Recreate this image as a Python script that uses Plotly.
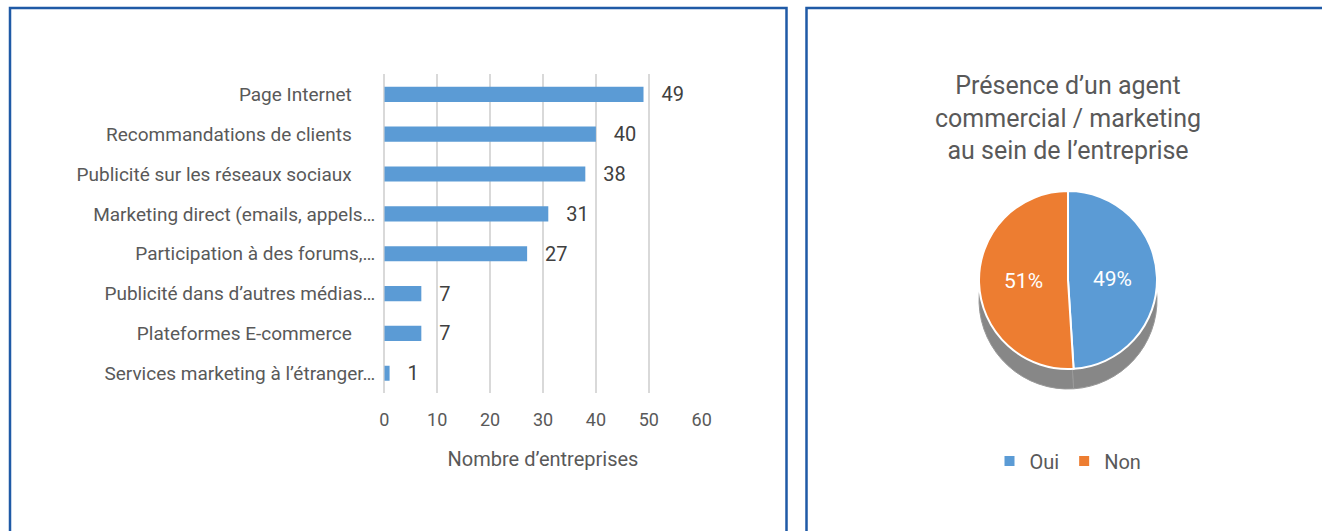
import plotly.graph_objects as go

# ---- data ----
categories = [
    "Page Internet",
    "Recommandations de clients",
    "Publicité sur les réseaux sociaux",
    "Marketing direct (emails, appels…",
    "Participation à des forums,…",
    "Publicité dans d’autres médias…",
    "Plateformes E-commerce",
    "Services marketing à l’étranger…",
]
counts = [49, 40, 38, 31, 27, 7, 7, 1]
x_ticks = [0, 10, 20, 30, 40, 50, 60]

pie_labels = ["Oui", "Non"]
pie_values = [49, 51]

W, H = 1322, 531
FONT = "Roboto, Liberation Sans, sans-serif"
GRAY_TXT = "#595959"


def px_x(v):
    return v / W


def px_y(v):
    return 1 - v / H


# pad labels without ellipsis so they end further from axis (as in reference)
disp_labels = [c if c.endswith("…") else c + "\u00a0" * 5 for c in categories]

fig = go.Figure()

fig.add_trace(go.Bar(
    y=disp_labels[::-1],
    x=counts[::-1],
    orientation="h",
    marker=dict(color="#5B9BD5", line=dict(width=0)),
    text=counts[::-1],
    texttemplate="\u00a0\u00a0\u00a0%{x}",
    textposition="outside",
    constraintext="none",
    cliponaxis=False,
    textfont=dict(family=FONT, size=20, color="#404040"),
    hoverinfo="skip",
    showlegend=False,
))

# depth of the pie (shadow below)
cx, cy, d = 1068, 280, 178
depth = 20
fig.add_trace(go.Pie(
    labels=pie_labels,
    values=pie_values,
    sort=False,
    direction="clockwise",
    marker=dict(colors=["#878787", "#878787"], line=dict(color="#9a9a9a", width=1)),
    textinfo="none",
    showlegend=False,
    hoverinfo="skip",
    domain=dict(x=[px_x(cx - d / 2), px_x(cx + d / 2)],
                y=[px_y(cy + depth + d / 2), px_y(cy + depth - d / 2)]),
))

fig.add_trace(go.Pie(
    labels=pie_labels,
    values=pie_values,
    sort=False,
    direction="clockwise",
    marker=dict(colors=["#5B9BD5", "#ED7D31"], line=dict(color="white", width=2)),
    textinfo="percent",
    texttemplate="%{percent:.0%}",
    textposition="inside",
    insidetextfont=dict(family=FONT, size=21, color="white"),
    domain=dict(x=[px_x(cx - d / 2), px_x(cx + d / 2)],
                y=[px_y(cy + d / 2), px_y(cy - d / 2)]),
    showlegend=True,
))

fig.update_layout(
    width=W, height=H,
    margin=dict(l=0, r=0, t=0, b=0, pad=0, autoexpand=False),
    paper_bgcolor="white",
    plot_bgcolor="white",
    font=dict(family=FONT, color=GRAY_TXT),
    bargap=0.62,
    xaxis=dict(
        domain=[384.3 / W, 701.7 / W],
        range=[0, 60],
        tickvals=x_ticks,
        showgrid=True,
        gridcolor="#D9D9D9",
        gridwidth=1.5,
        zeroline=True,
        zerolinecolor="#D9D9D9",
        zerolinewidth=1.5,
        showline=False,
        automargin=False,
        tickfont=dict(size=18, color=GRAY_TXT),
        ticklabelstandoff=14,
        title=dict(text="Nombre d’entreprises", font=dict(size=20, color=GRAY_TXT), standoff=22),
        fixedrange=True,
    ),
    yaxis=dict(
        domain=[1 - 393.2 / H, 1 - 74.4 / H],
        showgrid=False,
        zeroline=False,
        showline=False,
        automargin=False,
        tickfont=dict(size=19, color=GRAY_TXT),
        ticklabelstandoff=8,
        fixedrange=True,
    ),
    legend=dict(
        orientation="h",
        x=px_x(1068), xanchor="center",
        y=px_y(461), yanchor="middle",
        font=dict(size=20, color=GRAY_TXT),
        itemwidth=30,
    ),
    annotations=[dict(
        text="Présence d’un agent<br>commercial / marketing<br>au sein de l’entreprise",
        x=px_x(1068), y=px_y(118), xref="paper", yref="paper",
        xanchor="center", yanchor="middle", showarrow=False,
        font=dict(size=25, color=GRAY_TXT),
    )],
    shapes=[
        dict(type="rect", xref="paper", yref="paper",
             x0=px_x(10), x1=px_x(786.5), y0=px_y(560), y1=px_y(8),
             line=dict(color="#1F5AA6", width=2.5)),
        dict(type="rect", xref="paper", yref="paper",
             x0=px_x(806.5), x1=px_x(1340), y0=px_y(560), y1=px_y(8),
             line=dict(color="#1F5AA6", width=2.5)),
    ],
)

fig.write_html(
    "out.html",
    config={"displayModeBar": False},
    post_script="document.body.style.margin='0';document.body.style.overflow='hidden';",
)
